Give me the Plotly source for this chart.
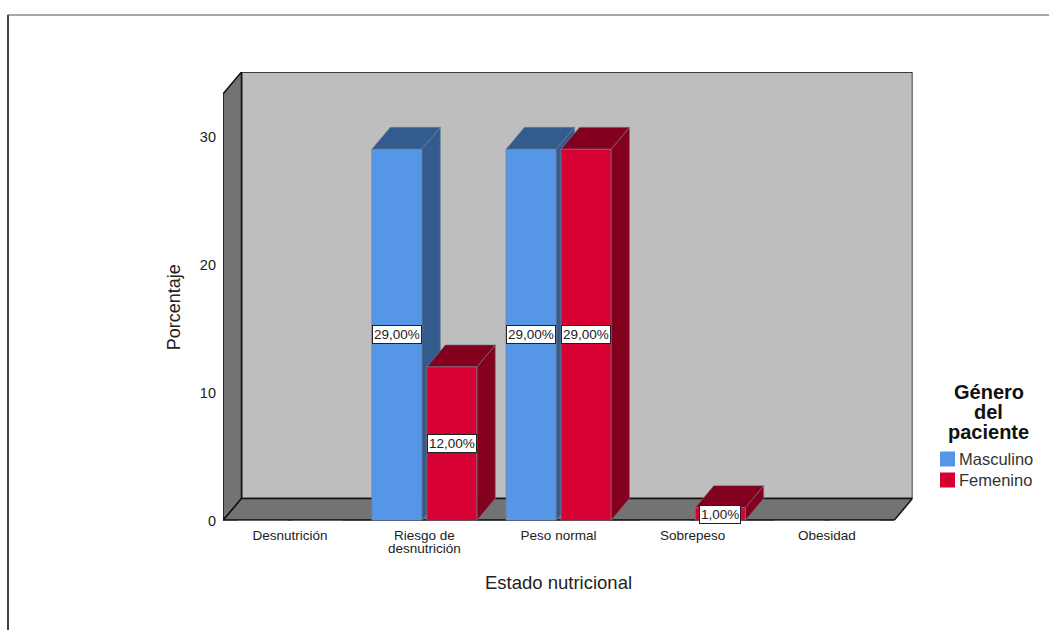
import plotly.graph_objects as go

# Nutritional status by patient gender (percent), SPSS-style 3D clustered bars
categories = ["Desnutrición", "Riesgo de<br>desnutrición", "Peso normal", "Sobrepeso", "Obesidad"]
masculino = [0, 29, 29, 0, 0]
femenino = [0, 12, 29, 1, 0]
y_ticks = [0, 10, 20, 30]
legend_title = ["Género", "del", "paciente"]

FONT = "Liberation Sans"
BLUE, BLUE_DARK = "#5596E6", "#345B8E"
RED, RED_DARK = "#D60032", "#84001F"
WALL, SIDE = "#BEBEBE", "#737373"
INK = "#111111"
TEXT = "#222222"

# Front face of the box in pixels; the plotting region is W x PH from the page corner
L, R, T, B = 223, 894, 94, 520.5
W, H = 1049, 630
PH = 570
X_RANGE = [-0.5, 4.5]
Y_RANGE = [0, 33.32]
DX, DY = 0.138, 1.72          # depth of the box in axis units
BAR_W, GAP = 0.3726, 0.0186   # bar width and half-gap in category units
BACK_X = X_RANGE[1] + DX
BACK_Y = Y_RANGE[1] + DY
BACK_R = L + (R - L) * (BACK_X - X_RANGE[0]) / (X_RANGE[1] - X_RANGE[0])
BACK_T = B - (B - T) * BACK_Y / Y_RANGE[1]


def px(x):
    return x / W


def py(y):
    return 1 - y / PH


def poly(xs, ys, fill, line=INK, width=1.5):
    return go.Scatter(
        x=xs + xs[:1], y=ys + ys[:1], mode="lines", fill="toself", fillcolor=fill,
        line=dict(color=line, width=width), hoverinfo="skip", showlegend=False,
    )


fig = go.Figure()

# Box: back wall, left wall, floor and its heavy front edge
x0, x1 = X_RANGE
top = Y_RANGE[1]
fig.add_trace(poly([x0 + DX, x1 + DX, x1 + DX, x0 + DX], [DY, DY, top + DY, top + DY], WALL))
fig.add_trace(poly([x0, x0 + DX, x0 + DX, x0], [0, DY, top + DY, top], SIDE))
fig.add_trace(poly([x0, x1, x1 + DX, x0 + DX], [0, 0, DY, DY], SIDE))
fig.add_trace(go.Scatter(
    x=[x0, x1], y=[0, 0], mode="lines", line=dict(color=INK, width=2.5),
    cliponaxis=False, hoverinfo="skip", showlegend=False,
))

# Top and side faces of each bar, left to right so nearer faces cover farther ones
for i in range(len(categories)):
    for values, start, dark in (
        (masculino, -GAP - BAR_W, BLUE_DARK),
        (femenino, GAP, RED_DARK),
    ):
        v = values[i]
        if v <= 0:
            continue
        a, b = i + start, i + start + BAR_W
        fig.add_trace(poly([b, b + DX, b + DX, b], [0, DY, v + DY, v], dark, "#6f7f90", 0.6))
        fig.add_trace(poly([a, b, b + DX, a + DX], [v, v, v + DY, v + DY], dark, "#6f7f90", 0.6))

# Front faces sit on a second subplot over the front plane, above all depth faces
for name, values, start, color in (
    ("Masculino", masculino, -GAP - BAR_W, BLUE),
    ("Femenino", femenino, GAP, RED),
):
    fig.add_trace(go.Bar(
        x=list(range(len(categories))), y=values, width=BAR_W, offset=start,
        marker=dict(color=color, line=dict(color="#77808c", width=0.7)),
        name=name, showlegend=False, xaxis="x2", yaxis="y2",
    ))

# Value labels at mid-height of each bar
annotations = []
for values, start in ((masculino, -GAP - BAR_W), (femenino, GAP)):
    for i, v in enumerate(values):
        if v > 0:
            annotations.append(dict(
                x=i + start + BAR_W / 2, y=v / 2, xref="x2", yref="y2",
                text=f"{v:.2f}%".replace(".", ","), showarrow=False,
                font=dict(family=FONT, size=13.5, color=TEXT),
                bgcolor="white", bordercolor=TEXT, borderwidth=1, borderpad=1,
            ))

# Second line of the two-line category, set closer than the tick-label line height
tick_text = [c.split("<br>")[0] for c in categories]
for i, c in enumerate(categories):
    parts = c.split("<br>")
    if len(parts) > 1:
        annotations.append(dict(
            x=i, y=py(548.5), xref="x2", yref="paper", yanchor="middle", text=parts[1],
            showarrow=False, font=dict(family=FONT, size=13.5, color=TEXT),
        ))

# Legend heading, one annotation per line for its tight leading
for line, ypix in zip(legend_title, (392, 412, 432)):
    annotations.append(dict(
        x=px(988.5), y=py(ypix), xref="paper", yref="paper", xanchor="center", yanchor="middle",
        text=f"<b>{line}</b>", showarrow=False,
        font=dict(family=FONT, size=20, color=INK),
    ))

shapes = [
    # Outer border of the chart frame
    dict(type="line", xref="paper", yref="paper", x0=px(7.5), x1=1, y0=py(15), y1=py(15),
         line=dict(color="#8a8a8a", width=1.5)),
    dict(type="line", xref="paper", yref="paper", x0=px(8), x1=px(8), y0=py(15), y1=py(H),
         line=dict(color="#444444", width=2)),
]

# Legend keys and labels
for name, color, ypix in (("Masculino", BLUE, 459), ("Femenino", RED, 480)):
    shapes.append(dict(
        type="rect", xref="paper", yref="paper",
        x0=px(940), x1=px(955), y0=py(ypix - 7.5), y1=py(ypix + 7.5),
        fillcolor=color, line=dict(width=0),
    ))
    annotations.append(dict(
        x=px(956.5), y=py(ypix), xref="paper", yref="paper", xanchor="left", yanchor="middle",
        text=name, showarrow=False, font=dict(family=FONT, size=16.5, color="#333333"),
    ))

fig.update_layout(
    width=W, height=H, autosize=False,
    margin=dict(l=0, r=0, t=0, b=H - PH, pad=0),
    paper_bgcolor="white", plot_bgcolor="rgba(0,0,0,0)",
    barmode="overlay", showlegend=False,
    font=dict(family=FONT, color=TEXT),
    # Hidden axes covering the whole box, depth included
    xaxis=dict(domain=[px(L), px(BACK_R)], range=[x0, BACK_X], visible=False),
    yaxis=dict(domain=[py(B), py(BACK_T)], range=[0, BACK_Y], visible=False),
    # Visible axes on the front plane of the box
    xaxis2=dict(
        domain=[px(L), px(R)], range=X_RANGE, anchor="y2",
        showgrid=False, zeroline=False, showline=False, ticks="",
        tickmode="array", tickvals=list(range(len(categories))),
        ticktext=tick_text, tickfont=dict(size=13.5), ticklabelstandoff=5,
        title=dict(text="Estado nutricional", font=dict(size=18.5), standoff=34),
    ),
    yaxis2=dict(
        domain=[py(B), py(T)], range=Y_RANGE, anchor="x2",
        showgrid=False, zeroline=False, showline=False, ticks="",
        tickmode="array", tickvals=y_ticks,
        tickfont=dict(size=14.5), ticklabelstandoff=6,
        title=dict(text="Porcentaje", font=dict(size=18), standoff=14),
    ),
    annotations=annotations,
    shapes=shapes,
)

fig.write_html("out.html")
